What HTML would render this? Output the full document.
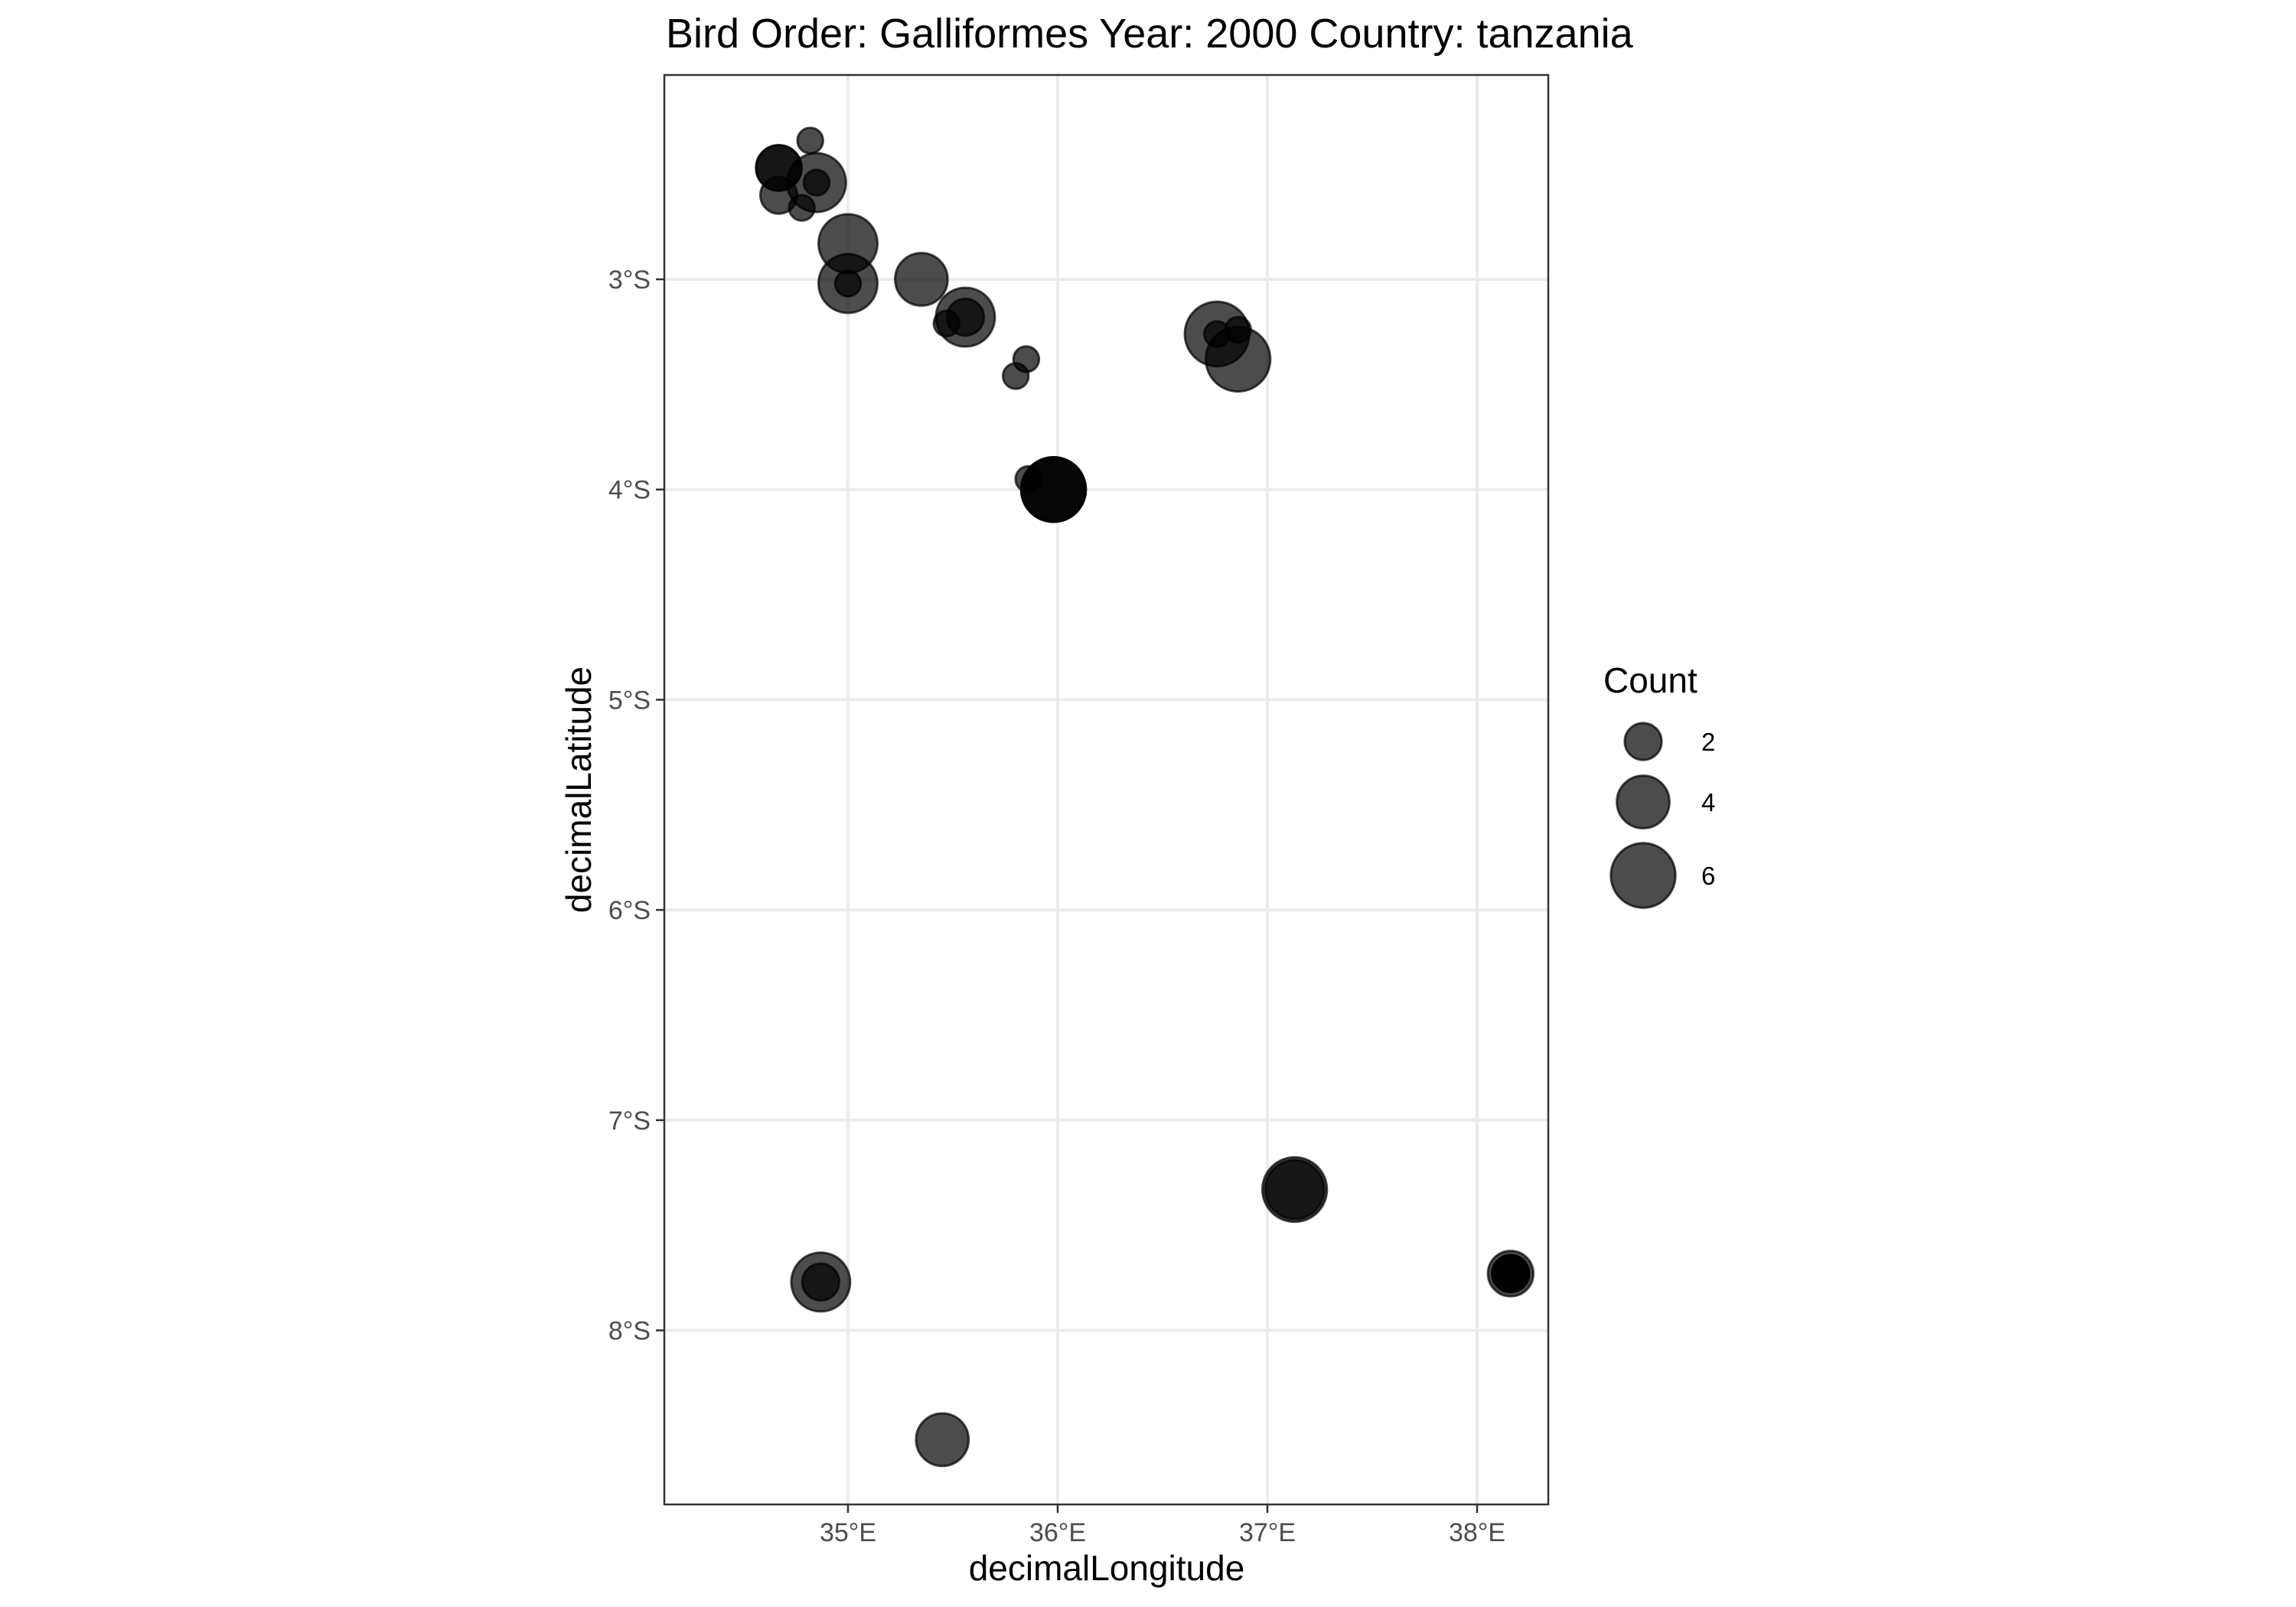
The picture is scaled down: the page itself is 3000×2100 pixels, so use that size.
<!DOCTYPE html>
<html><head><meta charset="utf-8"><style>
html,body{margin:0;padding:0;background:#fff;}
svg{display:block;font-family:"Liberation Sans",Arial,sans-serif;}
</style></head><body>
<svg id="chart" width="3000" height="2100" viewBox="0 0 3000 2100" xmlns="http://www.w3.org/2000/svg">
<rect x="0" y="0" width="3000" height="2100" fill="#fff"/>
<text x="870" y="62" font-size="54" fill="#000">Bird Order: Galliformes Year: 2000 Country: tanzania</text>
<g id="grid"></g>
<g id="points"></g>
<rect x="868" y="98" width="1155" height="1868" fill="none" stroke="#333" stroke-width="2.5"/>
<g id="axes"></g>
<text x="1446" y="2065" font-size="46" text-anchor="middle" fill="#000">decimalLongitude</text>
<text transform="translate(772,1032) rotate(-90)" font-size="46" text-anchor="middle" fill="#000">decimalLatitude</text>
<g id="legend">
<text x="2095" y="905" font-size="46" fill="#000">Count</text>
</g>
</svg>
<script>
const lonTicks = [35, 36, 37, 38];
const lonLabels = ["35°E", "36°E", "37°E", "38°E"];
const latTicks = [3, 4, 5, 6, 7, 8];
const latLabels = ["3°S", "4°S", "5°S", "6°S", "7°S", "8°S"];
const pointLon = [34.82, 34.67, 34.67, 34.85, 34.85, 34.67, 34.78, 35.0, 35.0, 35.0, 35.35, 35.56, 35.56, 35.47, 35.85, 35.8, 36.76, 36.86, 36.76, 36.86, 35.98, 35.98, 35.98, 35.86, 34.87, 34.87, 35.45, 37.13, 37.13, 38.16, 38.16, 38.16, 38.16];
const pointLat = [2.34, 2.47, 2.47, 2.54, 2.54, 2.6, 2.66, 2.83, 3.02, 3.02, 3.0, 3.18, 3.18, 3.21, 3.38, 3.46, 3.26, 3.38, 3.26, 3.24, 4.0, 4.0, 4.0, 3.95, 7.77, 7.77, 8.52, 7.33, 7.33, 7.73, 7.73, 7.73, 7.73];
const pointCount = [1, 3, 3, 5, 1, 2, 1, 5, 5, 1, 4, 5, 2, 1, 1, 1, 6, 6, 1, 1, 6, 6, 6, 1, 5, 2, 4, 6, 5, 3, 2, 2, 2];
const legendValues = [2, 4, 6];
const legendLabels = ["2", "4", "6"];

const NS = "http://www.w3.org/2000/svg";
function xScale(lon){ return 1108 + (lon - 35) * 274; }
function yScale(lat){ return 365 + (lat - 3) * 274.7; }
function rScale(n){ return Math.sqrt(Math.max(300 * n - 20, 150)); }
function mk(tag, attrs, parent){ const e = document.createElementNS(NS, tag); for (const k in attrs) e.setAttribute(k, attrs[k]); parent.appendChild(e); return e; }

const grid = document.getElementById('grid');
const axes = document.getElementById('axes');
lonTicks.forEach((v, i) => {
  const x = xScale(v);
  const g = mk('line', {x1: x, x2: x, y1: 98, y2: 1966, stroke: '#ebebeb', 'stroke-width': 4}, grid);
  
  
  const t = mk('line', {x1: x, x2: x, y1: 1966, y2: 1977, stroke: '#333', 'stroke-width': 2.5}, axes);
  
  
  const l = mk('text', {x: x, y: 2014, 'font-size': 34, 'text-anchor': 'middle', fill: '#4d4d4d'}, axes);
  l.textContent = lonLabels[i];
  
  
});
latTicks.forEach((v, i) => {
  const y = yScale(v);
  const g = mk('line', {x1: 868, x2: 2023, y1: y, y2: y, stroke: '#ebebeb', 'stroke-width': 4}, grid);
  
  
  const t = mk('line', {x1: 857, x2: 868, y1: y, y2: y, stroke: '#333', 'stroke-width': 2.5}, axes);
  
  
  const l = mk('text', {x: 850, y: y + 12, 'font-size': 34, 'text-anchor': 'end', fill: '#4d4d4d'}, axes);
  l.textContent = latLabels[i];
  
  
});
const pts = document.getElementById('points');
pointLon.forEach((lon, i) => {
  const c = mk('circle', {cx: xScale(lon), cy: yScale(pointLat[i]), r: rScale(pointCount[i]), fill: '#000', 'fill-opacity': 0.7, stroke: '#000', 'stroke-opacity': 0.7, 'stroke-width': 3}, pts);
  
  
});
const leg = document.getElementById('legend');
const legY = [969, 1048, 1144];
legendValues.forEach((v, i) => {
  const c = mk('circle', {cx: 2147, cy: legY[i], r: rScale(v), fill: '#000', 'fill-opacity': 0.7, stroke: '#000', 'stroke-opacity': 0.7, 'stroke-width': 3}, leg);
  
  
  const t = mk('text', {x: 2223, y: legY[i] + 12, 'font-size': 33, fill: '#000'}, leg);
  t.textContent = legendLabels[i];
  
  
});
</script>
</body></html>
